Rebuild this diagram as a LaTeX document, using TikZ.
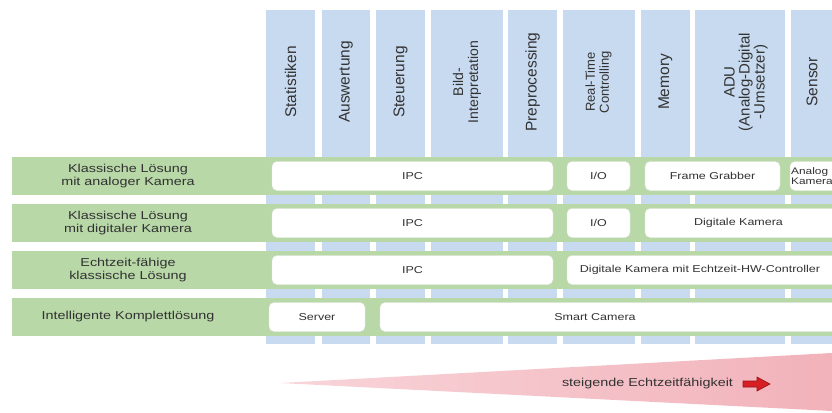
\documentclass[tikz,border=0pt]{standalone}
\usepackage{fontspec}
\setmainfont[FakeStretch=1.25]{Liberation Sans}
\newfontfamily\vf{Liberation Sans}
\definecolor{colblue}{RGB}{200,218,240}
\definecolor{rowgreen}{RGB}{184,216,168}
\definecolor{wedgepink}{RGB}{242,178,186}
\definecolor{txt}{RGB}{50,50,50}
\definecolor{arrred}{RGB}{215,30,35}
\tikzset{
  colhead/.style={rotate=90, align=center, text=txt, inner sep=0pt, font=\vf\fontsize{15.5}{16}\selectfont},
  rowlabel/.style={align=center, text=txt, inner sep=0pt, font=\fontsize{11.5}{13}\selectfont},
  box/.style={fill=white, draw=black!10, rounded corners=5pt, inner sep=0pt, minimum height=29pt, text=txt, font=\fontsize{10}{12}\selectfont},
  boxtext/.style={text=txt, inner sep=0pt, align=center, font=\fontsize{10}{12}\selectfont},
}
\begin{document}
\begin{tikzpicture}[x=1pt,y=-1pt]
\useasboundingbox (0,0) rectangle (832,412);
\clip (0,0) rectangle (832,412);
% columns
\foreach \a/\b in {266/315,322/370,376/425,431/503,508/557,563/635,641/690,695/785,791/850}
  \fill[colblue] (\a,10) rectangle (\b,344);
% column headers
\node[colhead] (h1) at (290.5,82) {Statistiken};
\node[colhead] (h2) at (346,82) {Auswertung};
\node[colhead] (h3) at (400.5,82) {Steuerung};
\node[colhead, font=\vf\fontsize{14}{15}\selectfont] (h4) at (467,82) {Bild-\\Interpretation};
\node[colhead] (h5) at (532.5,82) {Preprocessing};
\node[colhead, font=\vf\fontsize{13}{14}\selectfont] (h6) at (598.5,82) {Real-Time\\Controlling};
\node[colhead] (h7) at (665.5,82) {Memory};
\node[colhead, font=\vf\fontsize{15}{15}\selectfont] (h8) at (746,82) {ADU\\(Analog-Digital\\-Umsetzer)};
\node[colhead] (h9) at (812,82) {Sensor};
% rows
\fill[rowgreen] (12,157) rectangle (832,195);
\fill[rowgreen] (12,204) rectangle (832,242);
\fill[rowgreen] (12,251) rectangle (832,289);
\fill[rowgreen] (12,298) rectangle (832,336);
\node[rowlabel] (l1) at (128,176) {Klassische Lösung\\mit analoger Kamera};
\node[rowlabel] (l2) at (128,223) {Klassische Lösung\\mit digitaler Kamera};
\node[rowlabel] (l3) at (128,270) {Echtzeit-fähige\\klassische Lösung};
\node[rowlabel] (l4) at (128,317) {Intelligente Komplettlösung};
% row 1
\node[box, minimum width=281pt] (ipc1) at (412.5,176) {IPC};
\node[box, minimum width=63pt] (io1) at (598.5,176) {I/O};
\node[box, minimum width=135pt] (fg) at (712.5,176) {Frame Grabber};
\node[box, minimum width=70pt] (ak) at (825,176) {};
\node[boxtext, anchor=west, align=left, font=\fontsize{9.5}{10.5}\selectfont] (akt) at (791,176) {Analog\\Kamera};
% row 2
\node[box, minimum width=281pt] (ipc2) at (412.5,223) {IPC};
\node[box, minimum width=63pt] (io2) at (598.5,223) {I/O};
\node[box, minimum width=215pt] (dk) at (752.5,223) {};
\node[boxtext] (dkt) at (738.5,223) {Digitale Kamera};
% row 3
\node[box, minimum width=281pt] (ipc3) at (412.5,270) {IPC};
\node[box, minimum width=293pt] (dkh) at (713.5,270) {};
\node[boxtext] (dkht) at (700,270) {Digitale Kamera mit Echtzeit-HW-Controller};
% row 4
\node[box, minimum width=96pt] (srv) at (317,317) {Server};
\node[box, minimum width=480pt] (sc) at (620,317) {};
\node[boxtext] (sct) at (595,317) {Smart Camera};
% wedge
\shade[left color=wedgepink!55, right color=wedgepink] (280,383) -- (832,353) -- (832,411) -- cycle;
\node[rowlabel] (rt) at (647.5,384) {steigende Echtzeitfähigkeit};
\filldraw[fill=arrred, draw=arrred!70!black, line width=0.6pt]
  (743,381) -- (757,381) -- (757,377) -- (770,384) -- (757,391) -- (757,387) -- (743,387) -- cycle;
\end{tikzpicture}
\end{document}
